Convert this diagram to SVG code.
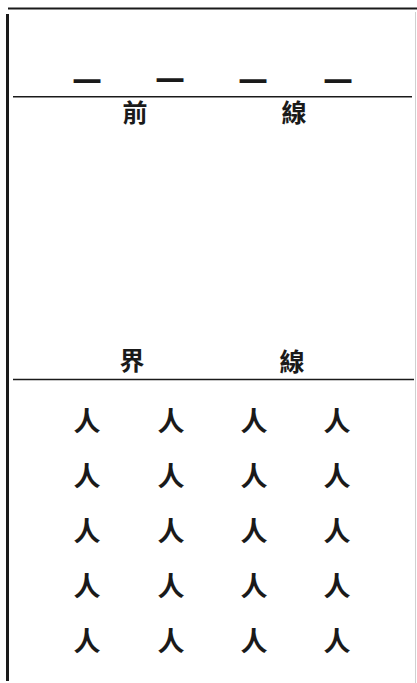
<svg xmlns="http://www.w3.org/2000/svg" width="417" height="683" viewBox="0 0 417 683">
<style>
.ln{stroke:#1a1a1a;fill:none}
.t{font-family:"Noto Sans CJK TC","Noto Sans CJK SC",sans-serif;fill:#1a1a1a;text-anchor:middle}
.lab{font-size:25px;font-weight:bold}
.dash{font-size:29px;font-weight:bold}
.p{font-size:27px;font-weight:bold}
</style>
<rect width="417" height="683" fill="#ffffff"/>
<g id="frame">
<line class="ln" x1="8" y1="8.5" x2="417" y2="8.5" stroke-width="2.2"/>
<line class="ln" x1="7.5" y1="14" x2="7.5" y2="681" stroke-width="3"/>
<line x1="415.5" y1="12" x2="415.5" y2="683" stroke="#d0d0d0" stroke-width="1"/>
</g>
<g id="dashes">
<text class="t dash" x="87" y="92.5">一</text>
<text class="t dash" x="170" y="92">一</text>
<text class="t dash" x="253" y="92.5">一</text>
<text class="t dash" x="338" y="92.5">一</text>
</g>
<g id="front-line">
<line class="ln" x1="13" y1="96.8" x2="412" y2="96.8" stroke-width="1.6"/>
<text class="t lab" x="135" y="122">前</text>
<text class="t lab" x="294" y="122">線</text>
</g>
<g id="boundary-line">
<text class="t lab" x="132" y="370">界</text>
<text class="t lab" x="292" y="371">線</text>
<line class="ln" x1="13" y1="379.5" x2="414" y2="379.5" stroke-width="1.6"/>
</g>
<g id="people">
<text class="t p" x="87" y="431">人</text><text class="t p" x="171" y="431">人</text><text class="t p" x="254" y="431">人</text><text class="t p" x="337" y="431">人</text>
<text class="t p" x="87" y="486">人</text><text class="t p" x="171" y="486">人</text><text class="t p" x="254" y="486">人</text><text class="t p" x="337" y="486">人</text>
<text class="t p" x="87" y="541">人</text><text class="t p" x="171" y="541">人</text><text class="t p" x="254" y="541">人</text><text class="t p" x="337" y="541">人</text>
<text class="t p" x="87" y="596">人</text><text class="t p" x="171" y="596">人</text><text class="t p" x="254" y="596">人</text><text class="t p" x="337" y="596">人</text>
<text class="t p" x="87" y="651">人</text><text class="t p" x="171" y="651">人</text><text class="t p" x="254" y="651">人</text><text class="t p" x="337" y="651">人</text>
</g>
</svg>
